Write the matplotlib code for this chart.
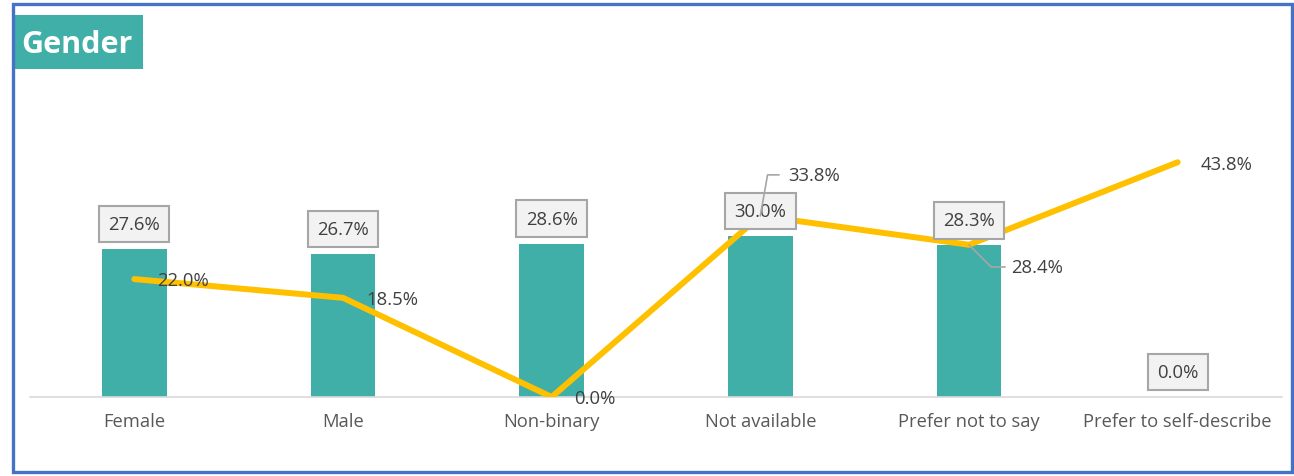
import matplotlib.pyplot as plt
from matplotlib.patches import Rectangle

categories = ["Female", "Male", "Non-binary", "Not available",
              "Prefer not to say", "Prefer to self-describe"]
bar_values = [27.6, 26.7, 28.6, 30.0, 28.3, 0.0]
line_values = [22.0, 18.5, 0.0, 33.8, 28.4, 43.8]

TEAL = "#40AFA7"
GOLD = "#FFC000"
TEXT = "#404040"
FONT = "Open Sans"
FS = 13.3

W, H = 1294, 477
fig = plt.figure(figsize=(W / 100, H / 100), dpi=100)
fig.patch.set_facecolor("white")

# outer frame
fig.patches.append(Rectangle((12.5 / W, 4.5 / H), (1291.5 - 12.5) / W, (472.5 - 4.5) / H,
                             transform=fig.transFigure, fill=False,
                             edgecolor="#4472C4", linewidth=2.4, zorder=10))
# title badge
fig.patches.append(Rectangle((15 / W, 1 - 70 / H), 128 / W, 54 / H,
                             transform=fig.transFigure, facecolor=TEAL,
                             edgecolor="none", zorder=5))
fig.text(77 / W, 1 - 45 / H, "Gender", color="white", fontsize=22,
         fontweight="bold", family=FONT, ha="center", va="center", zorder=6)

ax = fig.add_axes([30 / W, 79 / H, 1252 / W, 268 / H])
x = list(range(len(categories)))
ax.bar(x, bar_values, width=0.31, color=TEAL, zorder=2)
ax.plot(x, line_values, color=GOLD, linewidth=4.3, solid_capstyle="round",
        solid_joinstyle="miter", zorder=3)

ax.set_xlim(-0.5, len(categories) - 0.5)
ax.set_ylim(0, 50)
for s in ["top", "right", "left"]:
    ax.spines[s].set_visible(False)
ax.spines["bottom"].set_color("#D9D9D9")
ax.spines["bottom"].set_linewidth(1.2)
ax.set_yticks([])
ax.set_xticks(x)
ax.set_xticklabels(categories, family=FONT, fontsize=13.2, color="#595959")
ax.tick_params(axis="x", length=0, pad=11)

# bar value boxes
for xi, v in zip(x, bar_values):
    ax.annotate(f"{v:.1f}%", (xi, v), xytext=(0, 18), textcoords="offset points",
                ha="center", va="center", fontsize=FS, family=FONT, color=TEXT,
                bbox=dict(boxstyle="square,pad=0.5", facecolor="#F2F2F2",
                          edgecolor="#A6A6A6", linewidth=1.5), zorder=5)

# line value labels
offsets = {3: (20, 29.5), 4: (30, -16)}
for i, (xi, v) in enumerate(zip(x, line_values)):
    dx, dy = offsets.get(i, (16.5, -1))
    ax.annotate(f"{v:.1f}%", (xi, v), xytext=(dx, dy), textcoords="offset points",
                ha="left", va="center", fontsize=FS, family=FONT, color=TEXT,
                zorder=6)

# leader lines for the two displaced labels
lead = "#A6A6A6"
ax.annotate("", (3, line_values[3]), xytext=(13.5, 29.5), textcoords="offset points",
            arrowprops=dict(arrowstyle="-", color=lead, lw=1.2,
                            connectionstyle="angle,angleA=180,angleB=80,rad=0",
                            shrinkA=0, shrinkB=0), zorder=6)
ax.annotate("", (4, line_values[4]), xytext=(26, -16), textcoords="offset points",
            arrowprops=dict(arrowstyle="-", color=lead, lw=1.2,
                            connectionstyle="angle,angleA=180,angleB=-45,rad=0",
                            shrinkA=0, shrinkB=0), zorder=6)

fig.savefig("out.png", dpi=100, facecolor="white")
